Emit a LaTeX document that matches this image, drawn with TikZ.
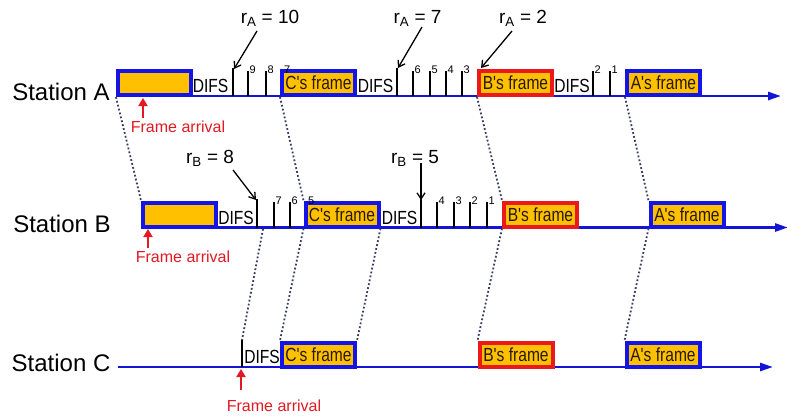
\documentclass[tikz,border=0pt]{standalone}
\usepackage{fontspec}
\setmainfont{Liberation Sans}
\newfontfamily\condfont[FakeStretch=0.82]{Liberation Sans}
\usetikzlibrary{arrows.meta}
\definecolor{lineblue}{RGB}{20,20,215}
\definecolor{boxblue}{RGB}{20,20,230}
\definecolor{boxred}{RGB}{235,25,25}
\definecolor{fillyellow}{RGB}{255,192,0}
\definecolor{arrred}{RGB}{225,25,35}
\definecolor{dotcol}{RGB}{60,60,100}
\definecolor{ftext}{RGB}{40,25,10}
\tikzset{
  fbox/.style={draw=boxblue, line width=4pt, fill=fillyellow, minimum width=73pt,
    minimum height=24pt, inner sep=0pt, text=ftext, font=\condfont\fontsize{19}{21}\selectfont},
  rbox/.style={fbox, draw=boxred},
  difs/.style={anchor=base, inner sep=0pt, font=\condfont\fontsize{19}{21}\selectfont},
  ticklab/.style={anchor=base west, inner sep=0pt, font=\fontsize{11}{12}\selectfont},
  ticky/.style={line width=1.2pt, black},
  station/.style={inner sep=0pt, font=\fontsize{24}{26}\selectfont},
  rlab/.style={anchor=base, inner sep=0pt, font=\fontsize{19}{21}\selectfont},
  rarrow/.style={line width=1.3pt, -{Straight Barb[length=6pt,width=8pt]}},
  baseline/.style={draw=lineblue, line width=2.6pt},
  prop/.style={draw=dotcol, line width=1.8pt, dash pattern=on 1.8pt off 2.2pt},
  arrlab/.style={inner sep=0pt, text=arrred, font=\fontsize{16}{18}\selectfont},
  arrarrow/.style={draw=arrred, line width=2.6pt, -{Triangle[length=8pt,width=9pt]}}
}
\begin{document}
\begin{tikzpicture}[x=1pt,y=-1pt]
\useasboundingbox (0,0) rectangle (787,418);

% ---------- station labels ----------
\node[station] (stA) at (61,91.5) {Station A};
\node[station] (stB) at (62,223.5) {Station B};
\node[station] (stC) at (61,363) {Station C};

% ---------- baselines ----------
\coordinate (Al0) at (117,96);  \coordinate (Al1) at (781,96);
\coordinate (Bl0) at (141,227.5); \coordinate (Bl1) at (788,227.5);
\coordinate (Cl0) at (118,367); \coordinate (Cl1) at (773,367);
\draw[baseline, -{Triangle[length=13pt,width=8pt]}] (Al0) -- (Al1);
\draw[baseline, -{Triangle[length=13pt,width=8pt]}] (Bl0) -- (Bl1);
\draw[baseline, -{Triangle[length=13pt,width=8pt]}] (Cl0) -- (Cl1);

% ---------- Station A ----------
\node[fbox] (A0) at (154.5,83) {};
\node[difs] (Ad1) at (210.5,92.5) {DIFS};
\foreach \x/\t in {233/68,248/71,266/71}{\draw[ticky] (\x,\t) -- (\x,96);}
\node[fbox] (ACf) at (318.5,83) {C's frame};
\node[difs] (Ad2) at (375.5,92.5) {DIFS};
\foreach \x/\t in {397/68,413/71,430/71,446/71,462/71}{\draw[ticky] (\x,\t) -- (\x,96);}
\node[rbox] (ABf) at (515.5,83) {B's frame};
\node[difs] (Ad3) at (572,92.5) {DIFS};
\foreach \x/\t in {593/71,610/71}{\draw[ticky] (\x,\t) -- (\x,96);}
\node[fbox] (AAf) at (663.5,83) {A's frame};
\foreach \x/\l in {249.5/9,267.5/8,284/7,414.5/6,431.5/5,447.5/4,463.5/3,594.5/2,611.5/1}{
  \node[ticklab] at (\x,73) {\l};}

% ---------- Station B ----------
\node[fbox] (B0) at (179.5,214.5) {};
\node[difs] (Bd1) at (236,224) {DIFS};
\foreach \x/\t in {257/199,274/202,290/202}{\draw[ticky] (\x,\t) -- (\x,227.5);}
\node[fbox] (BCf) at (342,214.5) {C's frame};
\node[difs] (Bd2) at (399.5,224) {DIFS};
\foreach \x/\t in {421/199,437/202,454/202,470/202,487/202}{\draw[ticky] (\x,\t) -- (\x,227.5);}
\node[rbox] (BBf) at (540.5,214.5) {B's frame};
\node[fbox] (BAf) at (687,214.5) {A's frame};
\foreach \x/\l in {275.5/7,291.5/6,308/5,438.5/4,455.5/3,471.5/2,488.5/1}{
  \node[ticklab] at (\x,204) {\l};}

% ---------- Station C ----------
\coordinate (Ct) at (242,340);
\draw[ticky] (Ct) -- (242,367);
\node[difs] (Cd1) at (262,363.5) {DIFS};
\node[fbox] (CCf) at (318.5,354.5) {C's frame};
\node[rbox] (CBf) at (516,354.5) {B's frame};
\node[fbox] (CAf) at (663,354.5) {A's frame};

% ---------- backoff labels ----------
\node[rlab] (rA10) at (270,23) {r\textsubscript{A} = 10};
\node[rlab] (rA7) at (417.5,23) {r\textsubscript{A} = 7};
\node[rlab] (rA2) at (523,23) {r\textsubscript{A} = 2};
\node[rlab] (rB8) at (210,163) {r\textsubscript{B} = 8};
\node[rlab] (rB5) at (415,163) {r\textsubscript{B} = 5};
\coordinate (rA10s) at (257,31);  \coordinate (rA10e) at (234,69);
\coordinate (rA7s) at (422,27);   \coordinate (rA7e) at (398,68);
\coordinate (rA2s) at (512,31);   \coordinate (rA2e) at (481,68);
\coordinate (rB8s) at (233,170);  \coordinate (rB8e) at (256,200);
\coordinate (rB5s) at (421,163);  \coordinate (rB5e) at (421,200);
\draw[rarrow] (rA10s) -- (rA10e);
\draw[rarrow] (rA7s) -- (rA7e);
\draw[rarrow] (rA2s) -- (rA2e);
\draw[rarrow] (rB8s) -- (rB8e);
\draw[rarrow] (rB5s) -- (rB5e);

% ---------- frame arrivals ----------
\node[arrlab] (faA) at (178,127) {Frame arrival};
\node[arrlab] (faB) at (183,257) {Frame arrival};
\node[arrlab] (faC) at (274,406) {Frame arrival};
\coordinate (faAs) at (143,118); \coordinate (faAe) at (143,98);
\coordinate (faBs) at (148,248); \coordinate (faBe) at (148,229);
\coordinate (faCs) at (241,390); \coordinate (faCe) at (241,369);
\draw[arrarrow] (faAs) -- (faAe);
\draw[arrarrow] (faBs) -- (faBe);
\draw[arrarrow] (faCs) -- (faCe);

% ---------- propagation lines ----------
\coordinate (Bx) at (263,229);
\draw[prop] (A0.south west) -- (B0.north west);
\draw[prop] (ACf.south west) -- (BCf.north west);
\draw[prop] (ABf.south west) -- (BBf.north west);
\draw[prop] (AAf.south west) -- (BAf.north west);
\draw[prop] (Bx) -- (Ct);
\draw[prop] (BCf.south west) -- (CCf.north west);
\draw[prop] (BCf.south east) -- (CCf.north east);
\draw[prop] (BBf.south west) -- (CBf.north west);
\draw[prop] (BAf.south west) -- (CAf.north west);
\end{tikzpicture}
\end{document}
